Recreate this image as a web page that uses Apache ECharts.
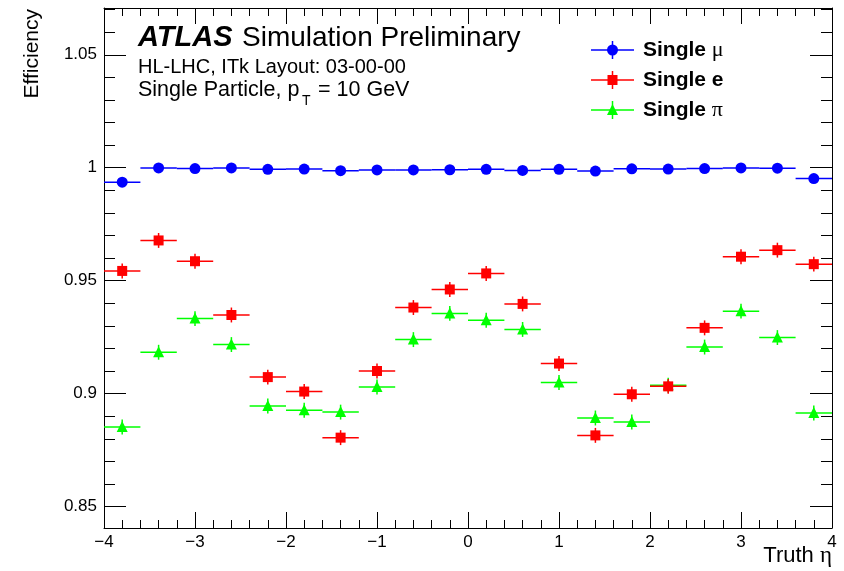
<!DOCTYPE html>
<html>
<head>
<meta charset="utf-8">
<script src="https://cdn.jsdelivr.net/npm/echarts@6/dist/echarts.min.js"></script>
<style>
  html, body { margin: 0; padding: 0; background: #fff; }
  #chart { width: 844px; height: 571px; }
</style>
</head>
<body>
<div id="chart"></div>
<script>
// bin centres in truth eta (bin width 0.4)
const etaCenters = [-3.8, -3.4, -3.0, -2.6, -2.2, -1.8, -1.4, -1.0, -0.6, -0.2,
                    0.2, 0.6, 1.0, 1.4, 1.8, 2.2, 2.6, 3.0, 3.4, 3.8];
const effMuon = [0.9936, 0.9999, 0.9996, 0.9999, 0.9993, 0.9994, 0.9987, 0.9990, 0.9990, 0.9991,
                 0.9993, 0.9988, 0.9993, 0.9985, 0.9995, 0.9994, 0.9996, 0.9999, 0.9998, 0.9952];
const effElectron = [0.9543, 0.9678, 0.9586, 0.9348, 0.9073, 0.9009, 0.8805, 0.9100, 0.9381, 0.9461,
                     0.9532, 0.9397, 0.9133, 0.8815, 0.8997, 0.9032, 0.9291, 0.9606, 0.9635, 0.9573];
const effPion = [0.8852, 0.9183, 0.9332, 0.9217, 0.8945, 0.8926, 0.8918, 0.9029, 0.9239, 0.9355,
                 0.9325, 0.9284, 0.9049, 0.8892, 0.8874, 0.9037, 0.9206, 0.9365, 0.9248, 0.8914];
// statistical errors (roughly constant per sample)
const errMuon = 0.0005;
const errElectron = 0.0033;
const errPion = 0.0033;
const binHalfWidth = 0.2;

const yMajorTicks = [0.85, 0.9, 0.95, 1, 1.05];
const yMinorTicks = [0.86, 0.87, 0.88, 0.89, 0.91, 0.92, 0.93, 0.94, 0.96, 0.97, 0.98, 0.99,
                     1.01, 1.02, 1.03, 1.04, 1.06, 1.07];

const SANS = 'Liberation Sans';
const SERIF = 'Liberation Serif';
const BLUE = '#0000ff', RED = '#ff0000', GREEN = '#00ff00';

function markerShape(kind, x, y, color) {
  if (kind === 'circle') {
    return { type: 'circle', shape: { cx: x, cy: y, r: 5.5 }, style: { fill: color } };
  }
  if (kind === 'square') {
    return { type: 'rect', shape: { x: x - 5, y: y - 5, width: 10, height: 10 }, style: { fill: color } };
  }
  return {
    type: 'polygon',
    shape: { points: [[x - 5.5, y + 5], [x + 5.5, y + 5], [x, y - 6]] },
    style: { fill: color }
  };
}

function makeRender(kind, color, err) {
  return function (params, api) {
    const x = api.value(0), y = api.value(1);
    const p = api.coord([x, y]);
    const pl = api.coord([x - binHalfWidth, y]);
    const pr = api.coord([x + binHalfWidth, y]);
    const pu = api.coord([x, y + err]);
    const pd = api.coord([x, y - err]);
    const ls = { stroke: color, lineWidth: 1.5 };
    return {
      type: 'group',
      children: [
        { type: 'line', shape: { x1: pl[0], y1: p[1], x2: pr[0], y2: p[1] }, style: ls },
        { type: 'line', shape: { x1: p[0], y1: pu[1], x2: p[0], y2: pd[1] }, style: ls },
        markerShape(kind, p[0], p[1], color)
      ]
    };
  };
}

function pairs(vals) {
  return etaCenters.map((e, i) => [e, vals[i]]);
}

// legend entry drawn by hand (ROOT style: line + error bar + marker)
function legendEntry(kind, color, y, label) {
  const x0 = 591, x1 = 634, xm = 612.5;
  return [
    { type: 'line', shape: { x1: x0, y1: y, x2: x1, y2: y }, style: { stroke: color, lineWidth: 1.5 } },
    { type: 'line', shape: { x1: xm, y1: y - 9, x2: xm, y2: y + 9 }, style: { stroke: color, lineWidth: 1.5 } },
    markerShape(kind, xm, y, color),
    {
      type: 'text', x: 643, y: y,
      style: {
        text: label, verticalAlign: 'middle', fill: '#000',
        rich: {
          b: { fontFamily: SANS, fontWeight: 'bold', fontSize: 21 },
          g: { fontFamily: SERIF, fontSize: 22 }
        }
      }
    }
  ];
}

const chart = echarts.init(document.getElementById('chart'));

const tickStyle = { color: '#000', width: 1 };
function xAxisDef(pos, showLabel) {
  return {
    type: 'value', min: -4, max: 4, interval: 1, position: pos,
    axisLine: { show: true, onZero: false, lineStyle: tickStyle },
    axisTick: { show: true, inside: true, length: 16, lineStyle: tickStyle },
    minorTick: { show: true, splitNumber: 5, length: 8, lineStyle: tickStyle },
    splitLine: { show: false },
    axisLabel: showLabel ? {
      margin: 6, color: '#000', fontFamily: SANS, fontSize: 17,
      formatter: v => (v < 0 ? '\u2212' + (-v) : String(v))
    } : { show: false }
  };
}
function yAxisDef(pos, major, showLabel) {
  return {
    type: 'value', min: 0.8405, max: 1.0707, position: pos,
    axisLine: { show: major, onZero: false, lineStyle: tickStyle },
    axisTick: {
      show: true, inside: true, length: major ? 22 : 11,
      customValues: major ? yMajorTicks : yMinorTicks, lineStyle: tickStyle
    },
    splitLine: { show: false },
    axisLabel: showLabel ? {
      customValues: yMajorTicks, margin: 7, color: '#000', fontFamily: SANS, fontSize: 17
    } : { show: false }
  };
}

chart.setOption({
  animation: false,
  backgroundColor: '#fff',
  grid: { left: 104, right: 12, top: 8, bottom: 43, containLabel: false },
  xAxis: [xAxisDef('bottom', true), xAxisDef('top', false)],
  yAxis: [
    yAxisDef('left', true, true),
    yAxisDef('left', false, false),
    yAxisDef('right', true, false),
    yAxisDef('right', false, false)
  ],
  series: [
    { name: 'Single pi', type: 'custom', clip: true, renderItem: makeRender('triangle', GREEN, errPion), data: pairs(effPion) },
    { name: 'Single e', type: 'custom', clip: true, renderItem: makeRender('square', RED, errElectron), data: pairs(effElectron) },
    { name: 'Single mu', type: 'custom', clip: true, renderItem: makeRender('circle', BLUE, errMuon), data: pairs(effMuon) }
  ],
  graphic: [
    { type: 'text', x: 32, y: 9, rotation: Math.PI / 2,
      style: { text: 'Efficiency', align: 'right', verticalAlign: 'middle', fill: '#000', fontFamily: SANS, fontSize: 21 } },
    { type: 'text', x: 832, y: 556,
      style: { text: '{a|Truth }{g|\u03b7}', align: 'right', verticalAlign: 'middle', fill: '#000',
        rich: { a: { fontFamily: SANS, fontSize: 22 }, g: { fontFamily: SERIF, fontSize: 23 } } } },
    { type: 'text', x: 138, y: 38,
      style: { text: 'ATLAS', verticalAlign: 'middle', fill: '#000', fontFamily: SANS, fontSize: 29, fontWeight: 'bold', fontStyle: 'italic' } },
    { type: 'text', x: 242, y: 38,
      style: { text: 'Simulation Preliminary', verticalAlign: 'middle', fill: '#000', fontFamily: SANS, fontSize: 28 } },
    { type: 'text', x: 138, y: 67,
      style: { text: 'HL-LHC, ITk Layout: 03-00-00', verticalAlign: 'middle', fill: '#000', fontFamily: SANS, fontSize: 20 } },
    { type: 'text', x: 138, y: 90,
      style: { text: 'Single Particle, p', verticalAlign: 'middle', fill: '#000', fontFamily: SANS, fontSize: 21.5 } },
    { type: 'text', x: 302, y: 101,
      style: { text: 'T', verticalAlign: 'middle', fill: '#000', fontFamily: SANS, fontSize: 14 } },
    { type: 'text', x: 318, y: 90,
      style: { text: '= 10 GeV', verticalAlign: 'middle', fill: '#000', fontFamily: SANS, fontSize: 21.5 } }
  ]
    .concat(legendEntry('circle', BLUE, 50, '{b|Single }{g|\u03bc}'))
    .concat(legendEntry('square', RED, 80, '{b|Single e}'))
    .concat(legendEntry('triangle', GREEN, 110, '{b|Single }{g|\u03c0}'))
});
</script>
</body>
</html>
